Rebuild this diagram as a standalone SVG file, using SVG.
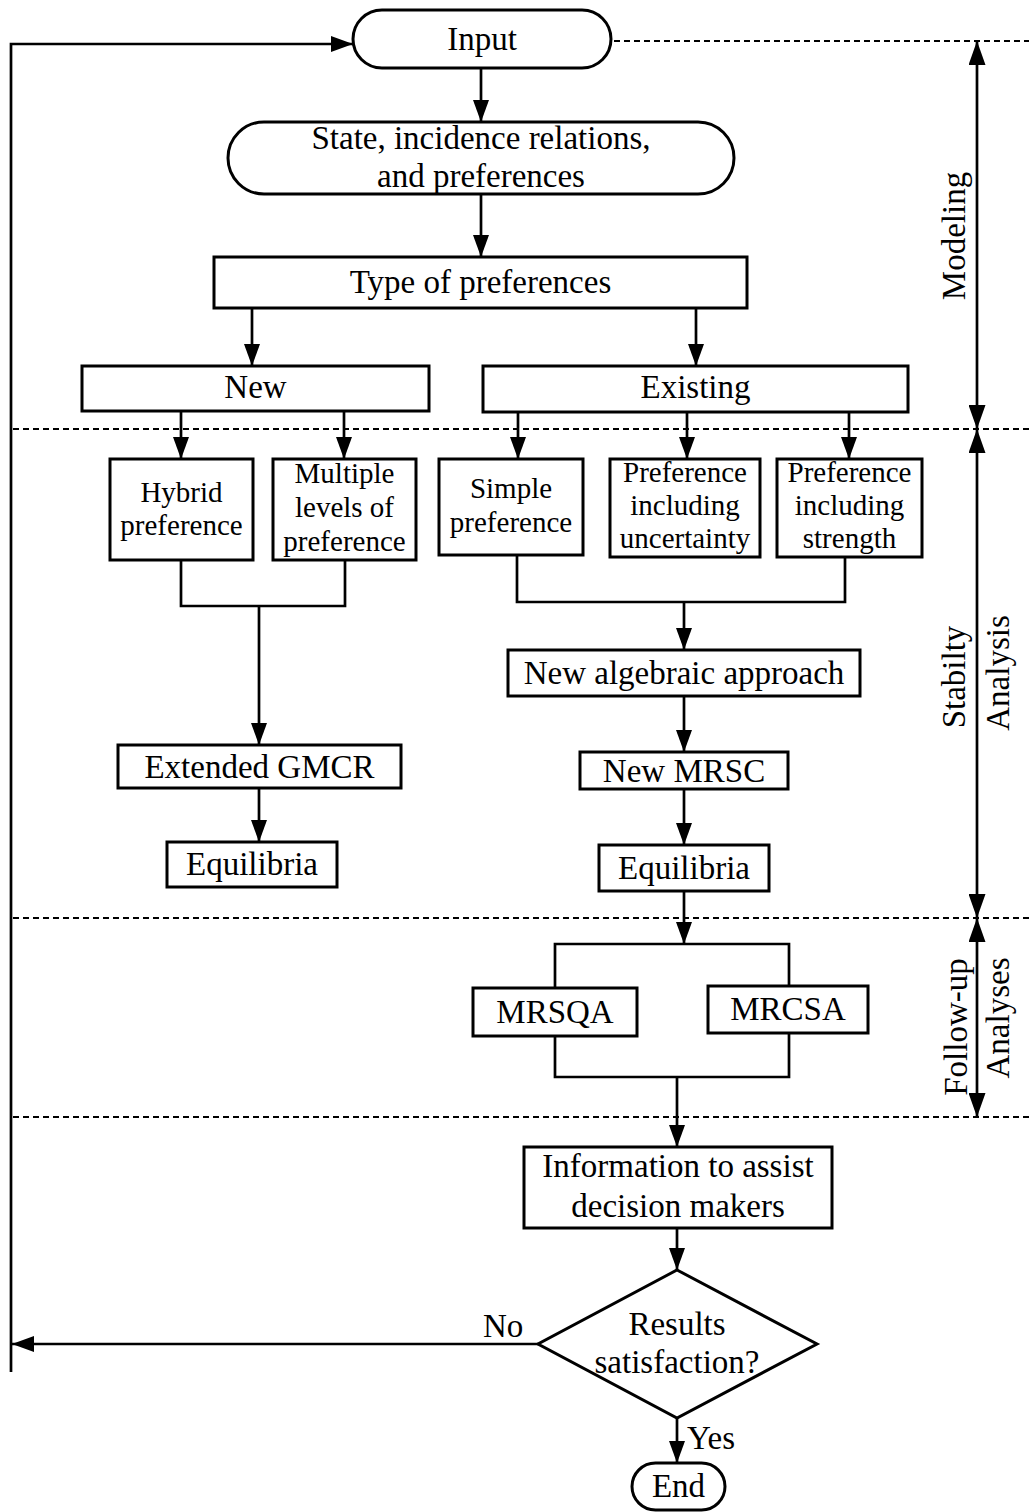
<svg xmlns="http://www.w3.org/2000/svg" width="1029" height="1512" viewBox="0 0 1029 1512">
  <style>
    .box { fill: #fff; stroke: #000; stroke-width: 3; }
    .line { fill: none; stroke: #000; stroke-width: 2.7; }
    .dash { fill: none; stroke: #000; stroke-width: 2; stroke-dasharray: 6 4; }
    .t { font-family: "Liberation Serif", "Times New Roman", serif; font-size: 33px; fill: #000; text-anchor: middle; }
    .s { font-family: "Liberation Serif", "Times New Roman", serif; font-size: 29px; fill: #000; text-anchor: middle; }
  </style>
  <defs>
    <marker id="arr" markerUnits="userSpaceOnUse" markerWidth="22" markerHeight="16" refX="22" refY="8" orient="auto">
      <path d="M0,0 L22,8 L0,16 Z" fill="#000"/>
    </marker>
    <marker id="arr2" markerUnits="userSpaceOnUse" markerWidth="24" markerHeight="17" refX="24" refY="8.5" orient="auto-start-reverse">
      <path d="M0,0 L24,8.5 L0,17 Z" fill="#000"/>
    </marker>
  </defs>

  <rect width="1029" height="1512" fill="#fff"/>

  <!-- stage separators -->
  <g id="separators">
    <path class="dash" d="M614,41 H1029"/>
    <path class="dash" d="M13,429 H1029"/>
    <path class="dash" d="M13,918 H1029"/>
    <path class="dash" d="M13,1117 H1029"/>
  </g>

  <!-- stage spans -->
  <g id="stages">
    <path class="line" d="M977,41 V429" marker-start="url(#arr2)" marker-end="url(#arr2)"/>
    <path class="line" d="M977,429 V918" marker-start="url(#arr2)" marker-end="url(#arr2)"/>
    <path class="line" d="M977,918 V1117" marker-start="url(#arr2)" marker-end="url(#arr2)"/>
    <text class="t" transform="translate(965,236) rotate(-90)">Modeling</text>
    <text class="t" transform="translate(965,677) rotate(-90)">Stabilty</text>
    <text class="t" transform="translate(1009,673) rotate(-90)">Analysis</text>
    <text class="t" transform="translate(967,1027) rotate(-90)">Follow-up</text>
    <text class="t" transform="translate(1009,1018) rotate(-90)">Analyses</text>
  </g>

  <!-- connectors -->
  <g id="connectors">
    <path class="line" d="M481,68 V122" marker-end="url(#arr)"/>
    <path class="line" d="M481,194 V257" marker-end="url(#arr)"/>
    <path class="line" d="M252,308 V366" marker-end="url(#arr)"/>
    <path class="line" d="M696,308 V366" marker-end="url(#arr)"/>
    <path class="line" d="M181,411 V459" marker-end="url(#arr)"/>
    <path class="line" d="M344,411 V459" marker-end="url(#arr)"/>
    <path class="line" d="M518,412 V459" marker-end="url(#arr)"/>
    <path class="line" d="M687,412 V459" marker-end="url(#arr)"/>
    <path class="line" d="M849,412 V459" marker-end="url(#arr)"/>
    <path class="line" d="M181,560 V606 H345 V560"/>
    <path class="line" d="M259,606 V745" marker-end="url(#arr)"/>
    <path class="line" d="M259,788 V842" marker-end="url(#arr)"/>
    <path class="line" d="M517,555 V602 H845 V557"/>
    <path class="line" d="M684,602 V650" marker-end="url(#arr)"/>
    <path class="line" d="M684,696 V752" marker-end="url(#arr)"/>
    <path class="line" d="M684,789 V845" marker-end="url(#arr)"/>
    <path class="line" d="M684,891 V944" marker-end="url(#arr)"/>
    <path class="line" d="M555,988 V944 H789 V986"/>
    <path class="line" d="M555,1036 V1077 H789 V1033"/>
    <path class="line" d="M677,1077 V1147" marker-end="url(#arr)"/>
    <path class="line" d="M677,1228 V1270" marker-end="url(#arr)"/>
    <path class="line" d="M677,1418 V1463" marker-end="url(#arr)"/>
    <path class="line" d="M538,1344 H12" marker-end="url(#arr)"/>
    <path class="line" d="M11,1372 V44 H353" marker-end="url(#arr)"/>
    <text class="t" x="483" y="1337" style="text-anchor:start">No</text>
    <text class="t" x="687" y="1449" style="text-anchor:start">Yes</text>
  </g>

  <!-- nodes -->
  <g id="input">
    <rect class="box" x="353" y="10" width="258" height="58" rx="29" ry="29"/>
    <text class="t" x="482" y="50">Input</text>
  </g>
  <g id="state">
    <rect class="box" x="228" y="122" width="506" height="72" rx="36" ry="36"/>
    <text class="t" x="481" y="149">State, incidence relations,</text>
    <text class="t" x="481" y="187">and preferences</text>
  </g>
  <g id="type">
    <rect class="box" x="214" y="257" width="533" height="51"/>
    <text class="t" x="480.5" y="293">Type of preferences</text>
  </g>
  <g id="new">
    <rect class="box" x="82" y="366" width="347" height="45"/>
    <text class="t" x="255.5" y="398">New</text>
  </g>
  <g id="existing">
    <rect class="box" x="483" y="366" width="425" height="46"/>
    <text class="t" x="695.5" y="398">Existing</text>
  </g>
  <g id="hybrid">
    <rect class="box" x="110" y="459" width="143" height="101"/>
    <text class="s" x="181.5" y="502">Hybrid</text>
    <text class="s" x="181.5" y="535">preference</text>
  </g>
  <g id="multiple">
    <rect class="box" x="273" y="459" width="143" height="101"/>
    <text class="s" x="344.5" y="483">Multiple</text>
    <text class="s" x="344.5" y="517">levels of</text>
    <text class="s" x="344.5" y="551">preference</text>
  </g>
  <g id="simple">
    <rect class="box" x="439" y="459" width="144" height="96"/>
    <text class="s" x="511" y="498">Simple</text>
    <text class="s" x="511" y="532">preference</text>
  </g>
  <g id="uncertainty">
    <rect class="box" x="610" y="459" width="150" height="98"/>
    <text class="s" x="685" y="482">Preference</text>
    <text class="s" x="685" y="515">including</text>
    <text class="s" x="685" y="548">uncertainty</text>
  </g>
  <g id="strength">
    <rect class="box" x="777" y="459" width="145" height="98"/>
    <text class="s" x="849.5" y="482">Preference</text>
    <text class="s" x="849.5" y="515">including</text>
    <text class="s" x="849.5" y="548">strength</text>
  </g>
  <g id="gmcr">
    <rect class="box" x="118" y="745" width="283" height="43"/>
    <text class="t" x="259.5" y="778">Extended GMCR</text>
  </g>
  <g id="equilibria-left">
    <rect class="box" x="167" y="842" width="170" height="45"/>
    <text class="t" x="252" y="875">Equilibria</text>
  </g>
  <g id="algebraic">
    <rect class="box" x="508" y="650" width="352" height="46"/>
    <text class="t" x="684" y="684">New algebraic approach</text>
  </g>
  <g id="mrsc">
    <rect class="box" x="580" y="752" width="208" height="37"/>
    <text class="t" x="684" y="782">New MRSC</text>
  </g>
  <g id="equilibria-right">
    <rect class="box" x="599" y="845" width="170" height="46"/>
    <text class="t" x="684" y="879">Equilibria</text>
  </g>
  <g id="mrsqa">
    <rect class="box" x="473" y="988" width="164" height="48"/>
    <text class="t" x="555" y="1023">MRSQA</text>
  </g>
  <g id="mrcsa">
    <rect class="box" x="708" y="986" width="160" height="47"/>
    <text class="t" x="788" y="1020">MRCSA</text>
  </g>
  <g id="information">
    <rect class="box" x="524" y="1147" width="308" height="81"/>
    <text class="t" x="678" y="1177">Information to assist</text>
    <text class="t" x="678" y="1217">decision makers</text>
  </g>
  <g id="decision">
    <polygon class="box" points="677,1270 817,1344 677,1418 538,1344"/>
    <text class="t" x="677" y="1335">Results</text>
    <text class="t" x="677" y="1373">satisfaction?</text>
  </g>
  <g id="end">
    <rect class="box" x="632" y="1463" width="93" height="47" rx="23.5" ry="23.5"/>
    <text class="t" x="678.5" y="1497">End</text>
  </g>
</svg>
